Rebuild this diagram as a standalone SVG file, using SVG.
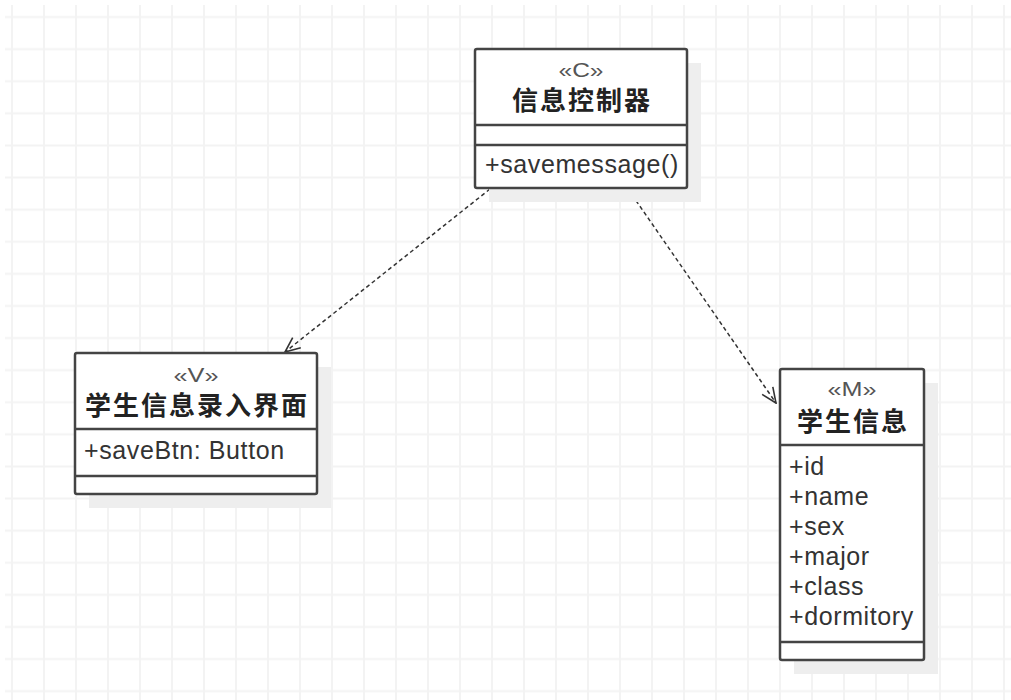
<svg xmlns="http://www.w3.org/2000/svg" width="1011" height="700" viewBox="0 0 1011 700">
<defs>
<style>
.shadow{fill:#eeeeee}
.box{fill:#ffffff;stroke:#444444;stroke-width:2.5}
.div{stroke:#444444;stroke-width:2.5}
.st{font-family:"Liberation Sans",Arial,sans-serif;font-size:19.5px;fill:#555555}
.nm{font-family:"Noto Sans CJK SC","Noto Sans CJK JP",sans-serif;font-weight:bold;font-size:26px;fill:#222222;letter-spacing:2px}
.at{font-family:"Liberation Sans",Arial,sans-serif;font-size:25px;fill:#333333;letter-spacing:0.6px}
.conn{stroke:#333333;stroke-width:1.5;stroke-dasharray:4 3;fill:none}
</style>
<pattern id="grid" x="-4" y="1" width="32" height="32.1" patternUnits="userSpaceOnUse">
<path d="M16 0 V32.1 M0 16 H32" stroke="#f3f3f3" stroke-width="2" fill="none"/>
</pattern>
<marker id="open" viewBox="0 0 17 15" refX="16" refY="7.5" markerWidth="17" markerHeight="15" orient="auto" markerUnits="userSpaceOnUse">
<path d="M1 1 L16 7.5 L1 14" fill="none" stroke="#333333" stroke-width="1.6"/>
</marker>
</defs>
<rect x="0" y="0" width="1011" height="700" fill="#ffffff"/>
<rect x="5" y="5" width="1006" height="695" fill="url(#grid)"/>

<g id="connectors">
<path class="conn" d="M490 189 L285 352" marker-end="url(#open)"/>
<path class="conn" d="M628 189 L776 403" marker-end="url(#open)"/>
</g>

<g id="controller">
<rect class="shadow" x="489" y="63" width="212" height="139"/>
<rect class="box" x="475" y="49" width="212" height="139" rx="2"/>
<line class="div" x1="475" y1="125" x2="687" y2="125"/>
<line class="div" x1="475" y1="145" x2="687" y2="145"/>
<text class="st" x="581" y="77" text-anchor="middle" textLength="45" lengthAdjust="spacingAndGlyphs">«C»</text>
<text class="nm" x="582" y="110" text-anchor="middle">信息控制器</text>
<text class="at" x="485" y="173">+savemessage()</text>
</g>

<g id="view">
<rect class="shadow" x="89" y="367" width="242" height="141"/>
<rect class="box" x="75" y="353" width="242" height="141" rx="2"/>
<line class="div" x1="75" y1="429" x2="317" y2="429"/>
<line class="div" x1="75" y1="476" x2="317" y2="476"/>
<text class="st" x="196" y="382" text-anchor="middle" textLength="45" lengthAdjust="spacingAndGlyphs">«V»</text>
<text class="nm" x="197" y="415" text-anchor="middle">学生信息录入界面</text>
<text class="at" x="84" y="459">+saveBtn: Button</text>
</g>

<g id="model">
<rect class="shadow" x="794" y="383" width="144" height="291"/>
<rect class="box" x="780" y="369" width="144" height="291" rx="2"/>
<line class="div" x1="780" y1="445" x2="924" y2="445"/>
<line class="div" x1="780" y1="642" x2="924" y2="642"/>
<text class="st" x="852" y="396" text-anchor="middle" textLength="49" lengthAdjust="spacingAndGlyphs">«M»</text>
<text class="nm" x="853" y="431" text-anchor="middle">学生信息</text>
<text class="at" x="789" y="475">+id</text>
<text class="at" x="789" y="505">+name</text>
<text class="at" x="789" y="535">+sex</text>
<text class="at" x="789" y="565">+major</text>
<text class="at" x="789" y="595">+class</text>
<text class="at" x="789" y="625">+dormitory</text>
</g>
</svg>
